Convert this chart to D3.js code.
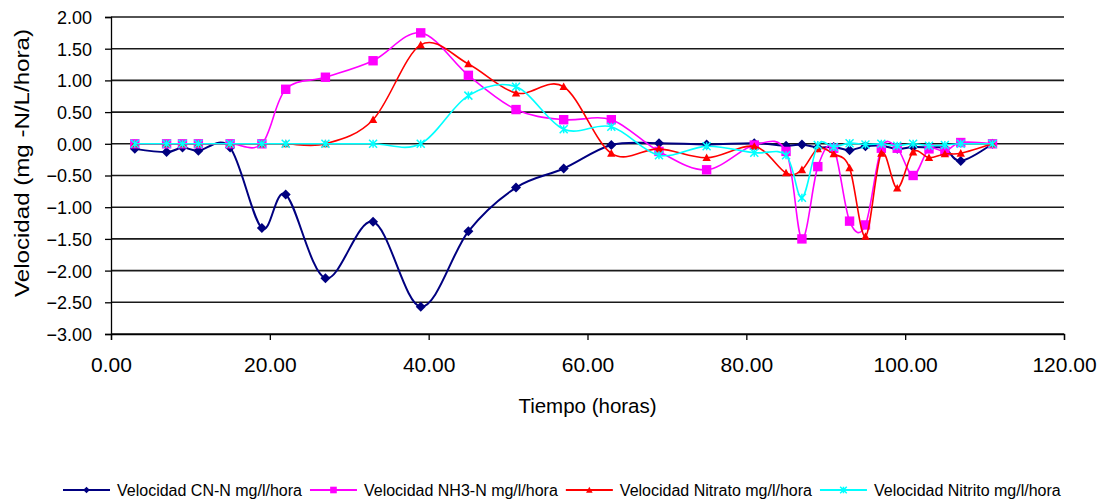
<!DOCTYPE html>
<html><head><meta charset="utf-8">
<script src="https://cdn.jsdelivr.net/npm/d3@7"></script>
<style>body{margin:0;background:#fff}svg{display:block}text{font-family:"Liberation Sans",Arial,sans-serif;fill:#000}</style>
</head><body><svg id="c" width="1103" height="501"></svg>
<script>
const tiempo = [3,7,9,11,15,19,22,27,33,39,45,51,57,63,69,75,81,85,87,89,91,93,95,97,99,101,103,105,107,111];
const cnN     = [-0.08,-0.13,-0.06,-0.11,-0.06,-1.33,-0.80,-2.12,-1.23,-2.57,-1.38,-0.69,-0.39,-0.02,0.01,-0.01,0.01,-0.03,-0.01,-0.06,-0.05,-0.10,-0.04,-0.03,-0.08,-0.05,-0.06,-0.07,-0.27,0];
const nh3N    = [0,0,0,0,0,0,0.86,1.05,1.31,1.75,1.08,0.54,0.38,0.38,-0.12,-0.41,-0.02,-0.12,-1.50,-0.36,-0.07,-1.22,-1.28,-0.07,-0.07,-0.50,-0.08,-0.12,0.02,0];
const nitrato = [0,0,0,0,0,0,0,0,0.38,1.56,1.26,0.80,0.90,-0.15,-0.08,-0.22,-0.04,-0.46,-0.41,-0.08,-0.16,-0.38,-1.46,-0.15,-0.70,-0.13,-0.22,-0.16,-0.15,0];
const nitrito = [0,0,0,0,0,0,0,0,0,0,0.76,0.90,0.23,0.27,-0.18,-0.04,-0.14,-0.18,-0.85,-0.02,-0.05,0.01,-0.01,0,-0.03,0,-0.03,-0.02,0,0];
const seriesNames = ["Velocidad CN-N mg/l/hora","Velocidad NH3-N mg/l/hora","Velocidad Nitrato mg/l/hora","Velocidad Nitrito mg/l/hora"];
const xTicks = [0,20,40,60,80,100,120];
const yTicks = [2,1.5,1,0.5,0,-0.5,-1,-1.5,-2,-2.5,-3];
const xTitle = "Tiempo (horas)";
const yTitle = "Velocidad (mg -N/L/hora)";

const svg = d3.select("#c");
const L=111, R=1064, T=17, B=334;
const x = d3.scaleLinear().domain([0,120]).range([L,R]);
const y = d3.scaleLinear().domain([-3,2]).range([B,T]);

// gridlines
svg.append("g").selectAll("line").data(yTicks).join("line")
  .attr("x1",L).attr("x2",R).attr("y1",d=>y(d)).attr("y2",d=>y(d))
  .attr("stroke","#1a1a1a").attr("stroke-width",1.6);

// axes
const yAxis = svg.append("g").attr("transform",`translate(${L},0)`)
  .call(d3.axisLeft(y).tickValues(yTicks).tickSize(6).tickFormat(d3.format(".2f")));
yAxis.select(".domain").attr("stroke","#000").attr("stroke-width",1.3);
yAxis.selectAll(".tick line").attr("stroke","#000").attr("stroke-width",1.3);
yAxis.selectAll(".tick text").attr("x",-19).attr("dy","0.36em")
  .style("font-size","18px").style("font-family","'Liberation Sans',Arial,sans-serif").attr("fill","#000");

const xAxis = svg.append("g").attr("transform",`translate(0,${B})`)
  .call(d3.axisBottom(x).tickValues(xTicks).tickSize(6).tickFormat(d3.format(".2f")));
xAxis.select(".domain").attr("stroke","#000").attr("stroke-width",1.3);
xAxis.selectAll(".tick line").attr("stroke","#000").attr("stroke-width",1.3);
xAxis.selectAll(".tick text").attr("y",23).attr("dy","0.71em")
  .style("font-size","21px").style("font-family","'Liberation Sans',Arial,sans-serif").attr("fill","#000");

svg.append("text").attr("x",(L+R)/2).attr("y",413).attr("text-anchor","middle")
  .style("font-size","20.5px").text(xTitle);
svg.append("text").attr("transform",`translate(29,163) rotate(-90)`).attr("text-anchor","middle")
  .attr("textLength",268).attr("lengthAdjust","spacingAndGlyphs")
  .style("font-size","21px").text(yTitle);

// series
const colors = ["#000080","#FF00FF","#FF0000","#00FFFF"];
const values = [cnN,nh3N,nitrato,nitrito];
const shapes = ["diamond","square","triangle","star"];
const line = d3.line().x(d=>x(d[0])).y(d=>y(d[1])).curve(d3.curveCardinal.tension(0));

function marker(g, shape, color, s){
  if(shape==="diamond") g.append("path").attr("d",`M0,${-s}L${s},0L0,${s}L${-s},0Z`).attr("fill",color);
  else if(shape==="square") g.append("rect").attr("x",-s).attr("y",-s).attr("width",2*s).attr("height",2*s).attr("fill",color);
  else if(shape==="triangle") g.append("path").attr("d",`M0,${-s}L${s},${s*0.8}L${-s},${s*0.8}Z`).attr("fill",color);
  else {
    g.append("path").attr("d",`M${-s},${-s}L${s},${s}M${-s},${s}L${s},${-s}M0,${-s}L0,${s}`)
      .attr("stroke",color).attr("stroke-width",1.5).attr("fill","none");
  }
}
const sizes = [5,4.7,4.2,4];
values.forEach((vals,i)=>{
  const pts = tiempo.map((t,j)=>[t,vals[j]]);
  const g = svg.append("g");
  g.append("path").datum(pts).attr("d",line).attr("fill","none")
    .attr("stroke",colors[i]).attr("stroke-width",i===0?2:1.6);
  pts.forEach(p=>{
    const m = g.append("g").attr("transform",`translate(${x(p[0])},${y(p[1])})`);
    marker(m, shapes[i], colors[i], sizes[i]);
  });
});

// legend
const leg = svg.append("g");
let lx = 63; const ly = 490;
seriesNames.forEach((n,i)=>{
  const it = leg.append("g");
  it.append("line").attr("x1",lx).attr("x2",lx+47).attr("y1",ly).attr("y2",ly)
    .attr("stroke",colors[i]).attr("stroke-width",2);
  const m = it.append("g").attr("transform",`translate(${lx+23.5},${ly})`);
  marker(m, shapes[i], colors[i], 3.3);
  const t = it.append("text").attr("x",lx+54).attr("y",ly).attr("dy","0.36em")
    .style("font-size","16px").text(n);
  const w = t.node().getComputedTextLength();
  lx = lx + 54 + w + 8;
});
</script></body></html>
